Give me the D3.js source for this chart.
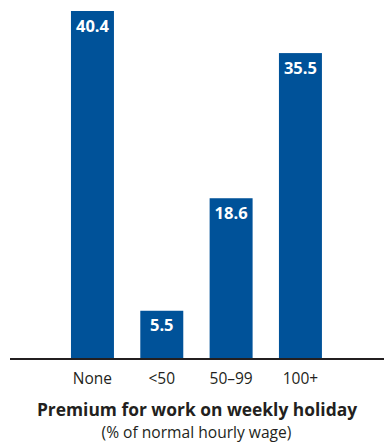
<!DOCTYPE html>
<html><head><meta charset="utf-8">
<script src="https://cdn.jsdelivr.net/npm/d3@7"></script>
<style>body{margin:0;background:#fff}svg{display:block}</style>
</head><body>
<script>
const categories = ["None", "<50", "50–99", "100+"];
const values = [40.4, 5.5, 18.6, 35.5];
const valueLabels = ["40.4", "5.5", "18.6", "35.5"];
const title = "Premium for work on weekly holiday";
const subtitle = "(% of normal hourly wage)";

const W = 384, H = 443, baseY = 358;
const svg = d3.select("body").append("svg").attr("width", W).attr("height", H);
const x = d3.scaleBand().domain(categories).range([57.8, 335.1]).paddingInner(0.38).paddingOuter(0.19);
const y = d3.scaleLinear().domain([0, 40.4]).range([baseY, 11]);
const blue = "#005299", ink = "#231f20";
const font = "'Open Sans', sans-serif";

svg.selectAll("rect.bar").data(values).join("rect").attr("class","bar")
  .attr("x", (d,i) => x(categories[i])).attr("width", x.bandwidth())
  .attr("y", d => y(d)).attr("height", d => baseY - y(d)).attr("fill", blue);

svg.selectAll("text.val").data(values).join("text").attr("class","val")
  .attr("x", (d,i) => x(categories[i]) + x.bandwidth()/2)
  .attr("y", d => y(d) + 20.5)
  .attr("text-anchor","middle").attr("fill","#fff")
  .style("font-family", font).style("font-weight","700").style("font-size","16.5px")
  .text((d,i) => valueLabels[i]);

const axis = d3.axisBottom(x).tickSize(0).tickPadding(0);
const g = svg.append("g").attr("transform", `translate(0,${baseY})`).call(axis);
g.select(".domain").remove();
g.append("line").attr("x1",10).attr("x2",384).attr("y1",1).attr("y2",1).attr("stroke",ink).attr("stroke-width",2);
g.selectAll(".tick text").attr("y", 26).attr("dy", 0).attr("fill", ink)
  .style("font-family", font).style("font-size","15.5px");

svg.append("text").attr("x", 197).attr("y", 416).attr("text-anchor","middle").attr("fill", ink)
  .style("font-family", font).style("font-weight","700").style("font-size","17.4px").text(title);
svg.append("text").attr("x", 196.5).attr("y", 438).attr("text-anchor","middle").attr("fill", ink)
  .style("font-family", font).style("font-size","15.6px").text(subtitle);
</script>
</body></html>
